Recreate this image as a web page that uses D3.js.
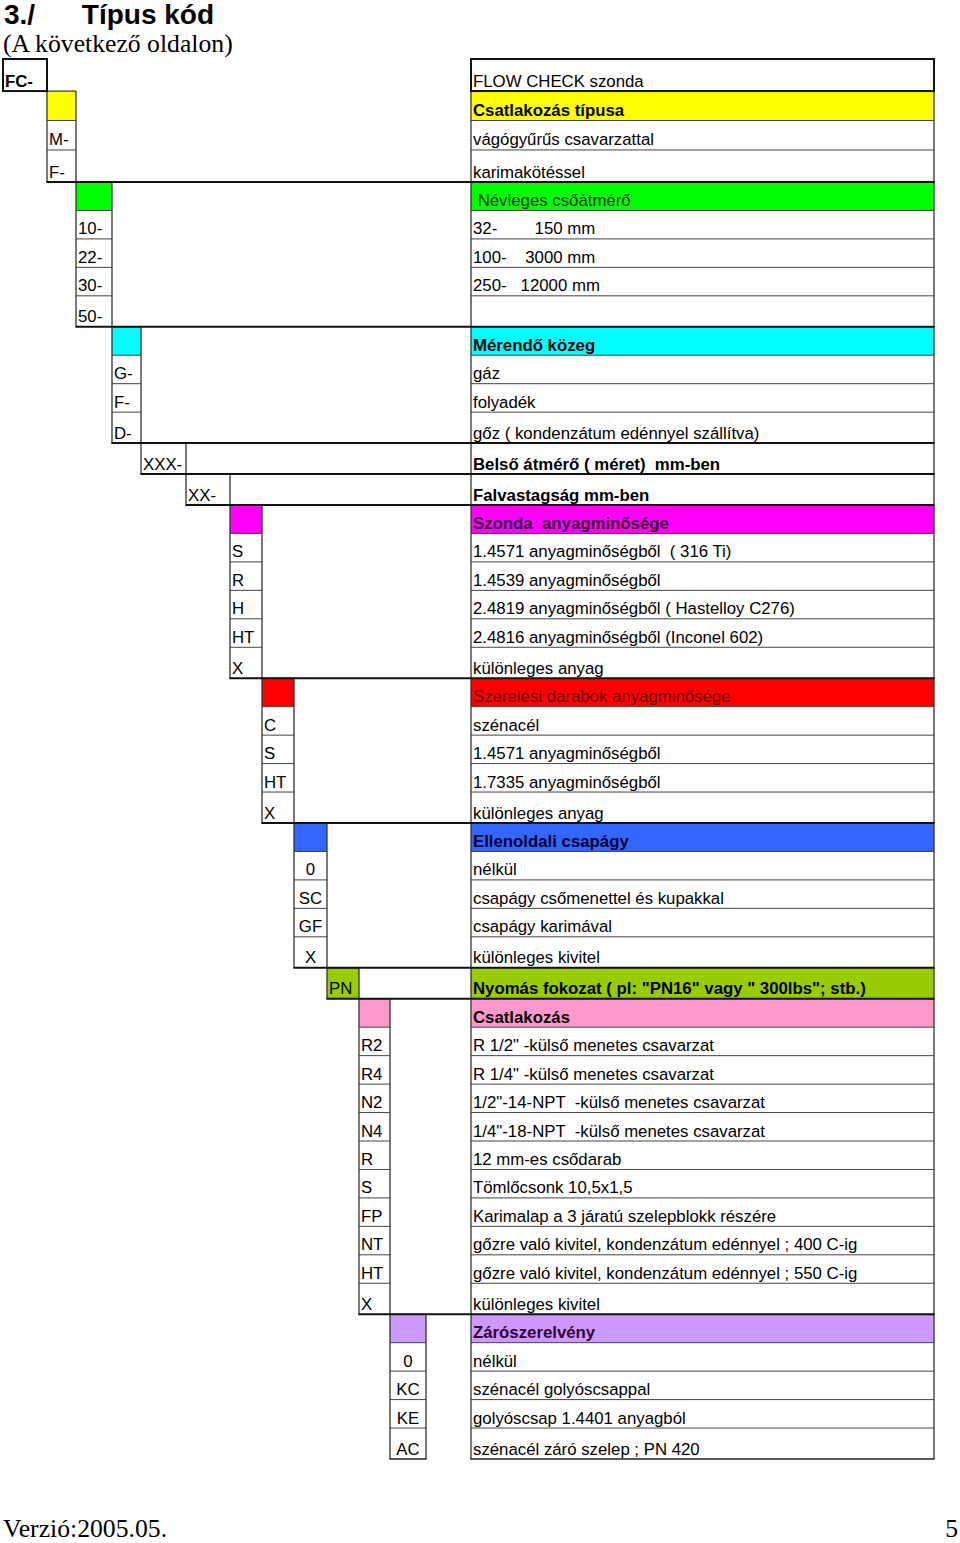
<!DOCTYPE html>
<html><head><meta charset="utf-8">
<script src="https://cdn.jsdelivr.net/npm/d3@7"></script>
<style>body{margin:0;background:#fff} svg{display:block} text{white-space:pre}</style>
</head><body>
<svg id="c" width="960" height="1543"></svg>
<script>
// ---------- data ----------
const titleText = "3./      Típus kód";
const subtitleText = "(A következő oldalon)";
const footerLeft = "Verzió:2005.05.";
const footerRight = "5";

const groupHeaders = [null, "Csatlakozás típusa", " Névleges csőátmérő", "Mérendő közeg", null, null,
  "Szonda  anyagminősége", "Szerelési darabok anyagminősége", "Ellenoldali csapágy", null,
  "Csatlakozás", "Zárószerelvény"];

const groupCodes = [
  ["FC-"],
  ["M-", "F-"],
  ["10-", "22-", "30-", "50-"],
  ["G-", "F-", "D-"],
  ["XXX-"],
  ["XX-"],
  ["S", "R", "H", "HT", "X"],
  ["C", "S", "HT", "X"],
  ["0", "SC", "GF", "X"],
  ["PN"],
  ["R2", "R4", "N2", "N4", "R", "S", "FP", "NT", "HT", "X"],
  ["0", "KC", "KE", "AC"]
];

const groupDescs = [
  ["FLOW CHECK szonda"],
  ["vágógyűrűs csavarzattal", "karimakötéssel"],
  ["32-        150 mm", "100-    3000 mm", "250-   12000 mm", ""],
  ["gáz", "folyadék", "gőz ( kondenzátum edénnyel szállítva)"],
  ["Belső átmérő ( méret)  mm-ben"],
  ["Falvastagság mm-ben"],
  ["1.4571 anyagminőségből  ( 316 Ti)", "1.4539 anyagminőségből", "2.4819 anyagminőségből ( Hastelloy C276)",
   "2.4816 anyagminőségből (Inconel 602)", "különleges anyag"],
  ["szénacél", "1.4571 anyagminőségből", "1.7335 anyagminőségből", "különleges anyag"],
  ["nélkül", "csapágy csőmenettel és kupakkal", "csapágy karimával", "különleges kivitel"],
  ["Nyomás fokozat ( pl: \"PN16\" vagy \" 300lbs\"; stb.)"],
  ["R 1/2\" -külső menetes csavarzat", "R 1/4\" -külső menetes csavarzat", "1/2\"-14-NPT  -külső menetes csavarzat",
   "1/4\"-18-NPT  -külső menetes csavarzat", "12 mm-es csődarab", "Tömlőcsonk 10,5x1,5",
   "Karimalap a 3 járatú szelepblokk részére", "gőzre való kivitel, kondenzátum edénnyel ; 400 C-ig",
   "gőzre való kivitel, kondenzátum edénnyel ; 550 C-ig", "különleges kivitel"],
  ["nélkül", "szénacél golyóscsappal", "golyóscsap 1.4401 anyagból", "szénacél záró szelep ; PN 420"]
];

// ---------- styles / layout ----------
const headerColors = [null, "#ffff00", "#00ff00", "#00ffff", null, null, "#ff00ff", "#ff0000", "#3366ff", "#99cc00", "#ff99cc", "#cc99ff"];
const headerTextColors = [null, "#000", "#003300", "#000", null, null, "#330033", "#660000", "#000033", "#000", "#000", "#330033"];
const headerBold = [false, true, false, true, false, false, true, false, true, true, true, true];
const boldDescGroups = [4, 5, 9];
const centeredCodeGroups = [8, 11];
const colEdges = [3, 47, 76, 112, 141, 186, 230, 262, 294, 327, 359, 390, 426];
const tableLeft = 471, tableRight = 934, tableTop = 59, tableBreak = 182, tableBottom = 1459;
const endExtra = 0.088;
const FS = 16.8;
const FONT = "'Liberation Sans', Arial, sans-serif";
const SERIF = "'Liberation Serif', 'Times New Roman', serif";

// ---------- build rows ----------
const rows = [];
groupCodes.forEach((codes, g) => {
  if (groupHeaders[g] !== null) rows.push({g, code: "", text: groupHeaders[g], head: true});
  codes.forEach((c, i) => rows.push({g, code: c, text: groupDescs[g][i], head: groupHeaders[g] === null && headerColors[g] !== null}));
  rows[rows.length - 1].end = true;
});
let u = 0, uBreak = 0;
rows.forEach(r => { r.u0 = u; u += r.end ? 1 + endExtra : 1; r.u1 = u; if (r.g === 1 && r.end) uBreak = u; });
const y = d3.scaleLinear().domain([0, uBreak, u]).range([tableTop, tableBreak, tableBottom]);
const x = d3.scaleLinear().domain(d3.range(colEdges.length)).range(colEdges);

const svg = d3.select("#c");
const gFill = svg.append("g"), gThin = svg.append("g"), gThick = svg.append("g"), gText = svg.append("g");

// fills
rows.filter(r => r.head).forEach(r => {
  const c = headerColors[r.g];
  gFill.append("rect").attr("x", x(r.g)).attr("y", y(r.u0)).attr("width", x(r.g + 1) - x(r.g)).attr("height", y(r.u1) - y(r.u0)).attr("fill", c);
  gFill.append("rect").attr("x", tableLeft).attr("y", y(r.u0)).attr("width", tableRight - tableLeft).attr("height", y(r.u1) - y(r.u0)).attr("fill", c);
});

const line = (g, x1, y1, x2, y2, w, col) => g.append("line").attr("x1", x1).attr("y1", y1).attr("x2", x2).attr("y2", y2)
  .attr("stroke", col).attr("stroke-width", w);

// group lines
groupCodes.forEach((codes, g) => {
  const gr = rows.filter(r => r.g === g);
  const top = y(gr[0].u0), bot = y(gr[gr.length - 1].u1);
  const x0 = x(g), x1 = x(g + 1);
  gr.forEach((r, i) => {
    if (i < gr.length - 1) {
      line(gThin, x0, y(r.u1), x1, y(r.u1), 1, "#444");
      line(gThin, tableLeft, y(r.u1), tableRight, y(r.u1), 1, "#444");
    }
  });
  if (g === 0) {
    gThick.append("rect").attr("x", x0).attr("y", top).attr("width", x1 - x0).attr("height", bot - top).attr("fill", "none").attr("stroke", "#111").attr("stroke-width", 2);
    gThick.append("rect").attr("x", tableLeft).attr("y", top).attr("width", tableRight - tableLeft).attr("height", bot - top).attr("fill", "none").attr("stroke", "#111").attr("stroke-width", 2);
    return;
  }
  line(gThin, x0, top, x1, top, 1.2, "#333");
  line(gThin, x0, top, x0, bot, 1.3, "#333");
  line(gThin, x1, top, x1, bot, 1.3, "#333");
  if (g < groupCodes.length - 1) {
    line(gThick, x0 - 0.6, bot, tableRight + 0.6, bot, 2, "#111");
  } else {
    line(gThick, x0 - 0.6, bot, x1 + 0.6, bot, 1.5, "#222");
    line(gThick, tableLeft - 0.6, bot, tableRight + 0.6, bot, 1.5, "#222");
  }
});
// table verticals
const firstBot = y(rows[0].u1);
line(gThin, tableLeft, firstBot, tableLeft, tableBottom, 1.3, "#333");
line(gThin, tableRight, firstBot, tableRight, tableBottom, 1.3, "#333");

// texts
rows.forEach(r => {
  const base = y(r.u1) - 4.5;
  if (r.code) {
    const centered = centeredCodeGroups.includes(r.g);
    gText.append("text")
      .attr("x", centered ? (x(r.g) + x(r.g + 1)) / 2 : x(r.g) + 2)
      .attr("y", base).attr("text-anchor", centered ? "middle" : "start")
      .attr("font-family", FONT).attr("font-size", FS)
      .attr("font-weight", r.g === 0 ? "bold" : "normal")
      .attr("fill", "#000").text(r.code);
  }
  if (r.text) {
    const bold = r.head ? headerBold[r.g] : boldDescGroups.includes(r.g);
    gText.append("text").attr("x", tableLeft + 2).attr("y", base)
      .attr("font-family", FONT).attr("font-size", FS)
      .attr("font-weight", bold ? "bold" : "normal")
      .attr("fill", r.head ? headerTextColors[r.g] : "#000").text(r.text);
  }
});

// title & footer
svg.append("text").attr("x", 4).attr("y", 24).attr("font-family", FONT).attr("font-weight", "bold").attr("font-size", 28).text(titleText);
svg.append("text").attr("x", 3).attr("y", 52).attr("font-family", SERIF).attr("font-size", 25.7).text(subtitleText);
svg.append("text").attr("x", 3).attr("y", 1537).attr("font-family", SERIF).attr("font-size", 25.7).text(footerLeft);
svg.append("text").attr("x", 958).attr("y", 1537).attr("text-anchor", "end").attr("font-family", SERIF).attr("font-size", 25.7).text(footerRight);
</script>
</body></html>
